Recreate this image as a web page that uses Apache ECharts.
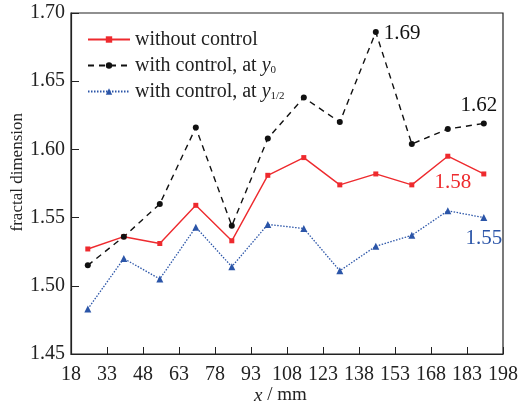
<!DOCTYPE html>
<html>
<head>
<meta charset="utf-8">
<script src="https://cdn.jsdelivr.net/npm/echarts@6/dist/echarts.min.js"></script>
<style>
html,body{margin:0;padding:0;background:#fff;}
#c{width:522px;height:404px;}
</style>
</head>
<body>
<div id="c"></div>
<script>
var xValues = [25, 40, 55, 70, 85, 100, 115, 130, 145, 160, 175, 190];
var withoutControl = [1.527, 1.536, 1.531, 1.559, 1.533, 1.581, 1.594, 1.574, 1.582, 1.574, 1.595, 1.582];
var withControlY0 = [1.515, 1.536, 1.560, 1.616, 1.544, 1.608, 1.638, 1.620, 1.686, 1.604, 1.615, 1.619];
var withControlYHalf = [1.483, 1.520, 1.505, 1.543, 1.514, 1.545, 1.542, 1.511, 1.529, 1.537, 1.555, 1.550];
var seriesNames = ['without control', 'with control, at y0', 'with control, at y1/2'];
var annotations = ['1.58', '1.69', '1.62', '1.55'];

var FONT = '"Liberation Serif", "DejaVu Serif", serif';
var RED = '#ee2a2e', BLACK = '#111', BLUE = '#2b55a8';

function pairs(ys) { return xValues.map(function (x, i) { return [x, ys[i]]; }); }

var redData = pairs(withoutControl);
redData[11] = { value: redData[11], label: { show: true, formatter: annotations[0], position: 'left', distance: 10, offset: [0, 9], color: RED, fontSize: 21, fontFamily: FONT } };
var blackData = pairs(withControlY0);
blackData[8] = { value: blackData[8], label: { show: true, formatter: annotations[1], position: 'right', distance: 5, offset: [0, 1], color: BLACK, fontSize: 21, fontFamily: FONT } };
blackData[11] = { value: blackData[11], label: { show: true, formatter: annotations[2], position: 'top', distance: 4, offset: [-5, 0], color: BLACK, fontSize: 21, fontFamily: FONT } };
var blueData = pairs(withControlYHalf);
blueData[11] = { value: blueData[11], label: { show: true, formatter: annotations[3], position: 'bottom', distance: 6, offset: [0, 1], color: BLUE, fontSize: 21, fontFamily: FONT } };

var chart = echarts.init(document.getElementById('c'), null, { renderer: 'canvas' });
chart.setOption({
  backgroundColor: '#fff',
  animation: false,
  grid: { left: 71, right: 19, top: 13, bottom: 50, show: true, borderColor: '#222', borderWidth: 1.2, backgroundColor: 'transparent' },
  legend: {
    left: 82, top: 24, orient: 'vertical', itemWidth: 42, itemHeight: 8, itemGap: 5,
    data: seriesNames,
    textStyle: {
      fontFamily: FONT, fontSize: 20, color: '#222', lineHeight: 21,
      rich: {
        n: { fontFamily: FONT, fontSize: 20, color: '#222' },
        i: { fontFamily: FONT, fontSize: 20, fontStyle: 'italic', color: '#222' },
        s: { fontFamily: FONT, fontSize: 11, color: '#222', verticalAlign: 'bottom', padding: [9, 0, 0, 0] }
      }
    },
    formatter: function (name) {
      if (name === seriesNames[1]) return '{n|with control, at }{i|y}{s|0}';
      if (name === seriesNames[2]) return '{n|with control, at }{i|y}{s|1/2}';
      return '{n|' + name + '}';
    }
  },
  xAxis: {
    type: 'value', min: 18, max: 198, interval: 15,
    axisLine: { show: true, lineStyle: { color: '#222', width: 1.2 } },
    axisTick: { show: true, inside: true, length: 7, lineStyle: { color: '#222' } },
    axisLabel: { fontFamily: FONT, fontSize: 20, color: '#222', margin: 11 },
    splitLine: { show: false }
  },
  yAxis: {
    type: 'value', min: 1.45, max: 1.70, interval: 0.05,
    axisLine: { show: true, lineStyle: { color: '#222', width: 1.2 } },
    axisTick: { show: true, inside: true, length: 8, lineStyle: { color: '#222' } },
    axisLabel: { fontFamily: FONT, fontSize: 20, color: '#222', margin: 6, formatter: function (v) { return v.toFixed(2); } },
    splitLine: { show: false }
  },
  graphic: [
    { type: 'text', left: 9, top: 113, rotation: Math.PI / 2, style: { text: 'fractal dimension', font: '17px ' + FONT, fill: '#222' } },
    {
      type: 'text', left: 254, top: 386,
      style: {
        text: '{i|x} / mm',
        font: '19px ' + FONT, fill: '#222',
        rich: { i: { fontStyle: 'italic', fontFamily: FONT, fontSize: 19, fill: '#222' } }
      }
    }
  ],
  series: [
    {
      name: seriesNames[0], type: 'line', data: redData,
      symbol: 'rect', symbolSize: 5, color: RED,
      lineStyle: { color: RED, width: 1.4, type: 'solid' },
      itemStyle: { color: RED }
    },
    {
      name: seriesNames[1], type: 'line', data: blackData,
      symbol: 'circle', symbolSize: 6, color: BLACK,
      lineStyle: { color: BLACK, width: 1.4, type: [6, 5] },
      itemStyle: { color: BLACK }
    },
    {
      name: seriesNames[2], type: 'line', data: blueData,
      symbol: 'triangle', symbolSize: 7, color: BLUE,
      lineStyle: { color: BLUE, width: 1.3, type: [1.5, 1.5] },
      itemStyle: { color: BLUE }
    }
  ]
});
</script>
</body>
</html>
